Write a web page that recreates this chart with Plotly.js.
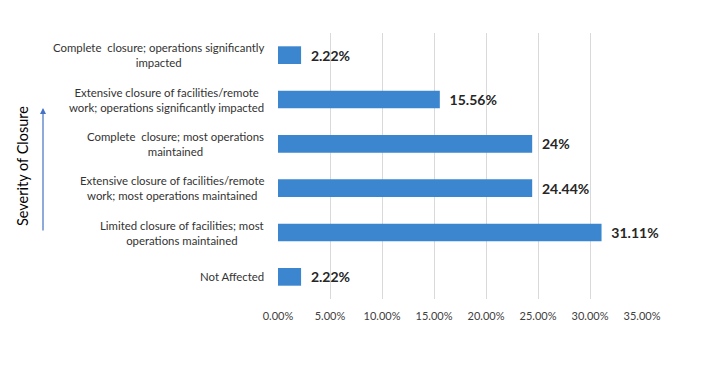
<!DOCTYPE html>
<html>
<head>
<meta charset="utf-8">
<script src="https://cdn.plot.ly/plotly-3.0.1.min.js"></script>
<style>html,body{margin:0;padding:0;background:#fff;}#chart{width:714px;height:381px;}</style>
</head>
<body>
<div id="chart"></div>
<script>
// Categories listed bottom to top
const categories = [
  "Not Affected",
  "Limited closure of facilities; most<br>operations maintained",
  "Extensive closure of facilities/remote<br>work; most operations maintained",
  "Complete  closure; most operations<br>maintained",
  "Extensive closure of facilities/remote<br>work; operations significantly impacted",
  "Complete  closure; operations significantly<br>impacted"
];
const values = [2.22, 31.11, 24.44, 24.44, 15.56, 2.22];
const valueLabels = ["2.22%", "31.11%", "24.44%", "24%", "15.56%", "2.22%"];
const xTickVals = [0, 5, 10, 15, 20, 25, 30, 35];
const xTickText = ["0.00%", "5.00%", "10.00%", "15.00%", "20.00%", "25.00%", "30.00%", "35.00%"];
const axisTitle = "Severity of Closure";

const trace = {
  type: "bar",
  orientation: "h",
  y: categories,
  x: values,
  width: 0.4,
  marker: {color: "#3b86cf", line: {width: 0}},
  text: valueLabels.map(t => "\u00A0\u00A0" + t),
  textposition: "outside",
  cliponaxis: false,
  textfont: {family: "Lato, 'Open Sans', sans-serif", size: 14, color: "#262626", weight: "bold"},
  hoverinfo: "none"
};

const labelAnnotations = categories.map(c => ({
  xref: "paper", yref: "y", x: 0, y: c, xshift: -12,
  xanchor: "right", yanchor: "middle", align: "center",
  text: c, showarrow: false,
  font: {family: "Lato, 'Open Sans', sans-serif", size: 11.4, color: "#333333"}
}));

const layout = {
  width: 714, height: 381,
  margin: {l: 278, r: 72, t: 33, b: 82, pad: 0},
  paper_bgcolor: "#ffffff", plot_bgcolor: "#ffffff",
  showlegend: false,
  xaxis: {
    range: [0, 35], tickvals: xTickVals, ticktext: xTickText,
    showgrid: true, gridcolor: "#d9d9d9", gridwidth: 1,
    zeroline: false, showline: false, ticks: "", ticklabelstandoff: 9,
    tickfont: {family: "Lato, 'Open Sans', sans-serif", size: 11, color: "#404040"}
  },
  yaxis: {
    showticklabels: false, showgrid: false, zeroline: false, showline: false, ticks: "",
    type: "category"
  },
  annotations: labelAnnotations.concat([
    {xref: "paper", yref: "paper", x: (22 - 278) / 364, y: 0.5, text: axisTitle, textangle: -90,
     showarrow: false, xanchor: "center", yanchor: "middle",
     font: {family: "Lato, 'Open Sans', sans-serif", size: 14.5, color: "#000000"}},
    {xref: "paper", yref: "paper", x: (43 - 278) / 364, y: 0.718, ax: 0, ay: 124,
     text: "", showarrow: true, arrowhead: 2, arrowsize: 1, arrowwidth: 1.2, arrowcolor: "#4472c4"}
  ])
};

Plotly.newPlot("chart", [trace], layout, {displayModeBar: false, staticPlot: true});
</script>
</body>
</html>
